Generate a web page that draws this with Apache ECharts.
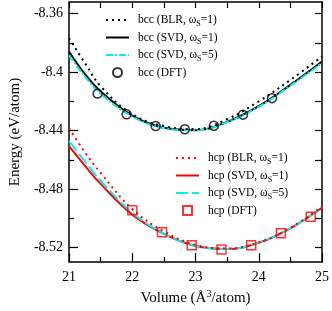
<!DOCTYPE html>
<html><head><meta charset="utf-8">
<script src="https://cdn.jsdelivr.net/npm/echarts@6/dist/echarts.min.js"></script>
<style>html,body{margin:0;padding:0;background:#fff}#c{width:332px;height:311px}</style>
</head><body><div id="c"></div>
<script>
const volumes = [21, 21.25, 21.5, 22, 22.5, 23, 23.5, 24, 24.5, 25];
const bccBLR  = [-8.3768, -8.3937, -8.4097, -8.4288, -8.4369, -8.4390, -8.4322, -8.4200, -8.4053, -8.3893];
const bccSVD1 = [-8.3860, -8.4012, -8.4132, -8.4297, -8.4380, -8.4397, -8.4340, -8.4233, -8.4087, -8.3927];
const bccSVD5 = [-8.3885, -8.4030, -8.4148, -8.4303, -8.4383, -8.4398, -8.4342, -8.4237, -8.4093, -8.3938];
const hcpBLR  = [-8.4385, -8.4548, -8.4690, -8.4937, -8.5090, -8.5182, -8.5207, -8.5165, -8.5065, -8.4920];
const hcpSVD1 = [-8.4507, -8.4640, -8.4765, -8.4975, -8.5107, -8.5190, -8.5211, -8.5168, -8.5069, -8.4928];
const hcpSVD5 = [-8.4473, -8.4610, -8.4743, -8.4962, -8.5105, -8.5189, -8.5210, -8.5167, -8.5068, -8.4926];
const bccDftV = [21.45, 21.91, 22.37, 22.83, 23.29, 23.75, 24.21];
const bccDftE = [-8.4147, -8.4289, -8.4369, -8.4391, -8.4367, -8.4291, -8.4178];
const hcpDftV = [22.00, 22.47, 22.94, 23.41, 23.88, 24.35, 24.82];
const hcpDftE = [-8.4945, -8.5095, -8.5185, -8.5213, -8.5185, -8.5102, -8.4989];
const yLabels = [-8.52, -8.48, -8.44, -8.40, -8.36];
const yMinor = [-8.50, -8.46, -8.42, -8.38];
const yAll = [-8.52, -8.50, -8.48, -8.46, -8.44, -8.42, -8.40, -8.38, -8.36];
const bccNames = ['bcc (BLR, ωS=1)', 'bcc (SVD, ωS=1)', 'bcc (SVD, ωS=5)', 'bcc (DFT)'];
const hcpNames = ['hcp (BLR, ωS=1)', 'hcp (SVD, ωS=1)', 'hcp (SVD, ωS=5)', 'hcp (DFT)'];

const FONT = 'Liberation Serif';
const pairs = (xs, ys) => xs.map((x, i) => [x, ys[i]]);
const BLACK = '#000', RED = '#ff0000', CYAN = '#00f0f0';
const SQUARE = 'path://M0,0H10V10H0Z';

function lineSeries(name, ys, color, type, width, z) {
  return { name, type: 'line', data: pairs(volumes, ys), smooth: 0.4, symbol: 'none',
    xAxisIndex: 0, yAxisIndex: 0, z,
    lineStyle: { color, width, type, cap: 'butt' }, itemStyle: { color } };
}
function dftSeries(name, xs, ys, color, symbol, size) {
  return { name, type: 'scatter', data: pairs(xs, ys), symbol, symbolSize: size, symbolKeepAspect: true,
    xAxisIndex: 0, yAxisIndex: 0, z: 10,
    itemStyle: { color: 'rgba(0,0,0,0)', borderColor: color, borderWidth: 1.5 } };
}
const legendItems = (names, lastIcon) => names.map((n, i) => i < 3
  ? { name: n, itemStyle: { opacity: 0 } }
  : { name: n, icon: lastIcon });
const legendFmt = n => n.replace('ωS', 'ω{s|S}');
const legendText = { fontFamily: FONT, fontSize: 11.5, color: '#000', padding: [0, 0, 0, 4],
  rich: { s: { fontFamily: FONT, fontSize: 8, padding: [8, 0, 0, 0], color: '#000' } } };

const chart = echarts.init(document.getElementById('c'), null, { renderer: 'canvas' });
chart.setOption({
  animation: false,
  backgroundColor: '#fff',
  grid: { left: 57, right: 9, top: 2, bottom: 43, containLabel: false },
  legend: [
    { data: legendItems(bccNames, 'circle'), orient: 'vertical', left: 100, top: 9, itemWidth: 23, itemHeight: 9, itemGap: 3.5,
      symbolKeepAspect: true, formatter: legendFmt, textStyle: legendText },
    { data: legendItems(hcpNames, SQUARE), orient: 'vertical', left: 170, top: 147, itemWidth: 23, itemHeight: 9, itemGap: 3.5,
      symbolKeepAspect: true, formatter: legendFmt, textStyle: legendText }
  ],
  xAxis: [
    { type: 'value', min: 21, max: 25, interval: 1, position: 'bottom',
      name: 'Volume (Å{sup|3}/atom)', nameLocation: 'middle', nameGap: 25,
      nameTextStyle: { fontFamily: FONT, fontSize: 15, color: '#000',
        rich: { sup: { fontFamily: FONT, fontSize: 10, padding: [0, 0, 9, 0], color: '#000' } } },
      axisLine: { show: true, lineStyle: { color: BLACK, width: 1.5 } },
      axisTick: { show: true, inside: true, length: 9, lineStyle: { color: BLACK, width: 1.2 } },
      minorTick: { show: true, splitNumber: 2, length: 5, lineStyle: { color: BLACK, width: 1.2 } },
      axisLabel: { fontFamily: FONT, fontSize: 14, color: '#000', margin: 8 },
      splitLine: { show: false } },
    { type: 'value', min: 21, max: 25, interval: 0.5, position: 'top',
      axisLine: { show: true, lineStyle: { color: BLACK, width: 1.5 } },
      axisTick: { show: true, inside: true, length: 6, lineStyle: { color: BLACK, width: 1.2 } },
      axisLabel: { show: false }, splitLine: { show: false } }
  ],
  yAxis: [
    { type: 'value', min: -8.53, max: -8.352, position: 'left',
      name: 'Energy (eV/atom)', nameLocation: 'middle', nameGap: 46,
      nameTextStyle: { fontFamily: FONT, fontSize: 15, color: '#000' },
      axisLine: { show: true, lineStyle: { color: BLACK, width: 1.5 } },
      axisTick: { show: true, inside: true, length: 9, customValues: yLabels, lineStyle: { color: BLACK, width: 1.2 } },
      axisLabel: { fontFamily: FONT, fontSize: 14, color: '#000', margin: 6, customValues: yLabels,
        formatter: v => String(+v.toFixed(2)) },
      splitLine: { show: false } },
    { type: 'value', min: -8.53, max: -8.352, position: 'right',
      axisLine: { show: true, lineStyle: { color: BLACK, width: 1.5 } },
      axisTick: { show: true, inside: true, length: 7, customValues: yAll, lineStyle: { color: BLACK, width: 1.2 } },
      axisLabel: { show: false }, splitLine: { show: false } },
    { type: 'value', min: -8.53, max: -8.352, position: 'left', offset: 0,
      axisLine: { show: false },
      axisTick: { show: true, inside: true, length: 5, customValues: yMinor, lineStyle: { color: BLACK, width: 1.2 } },
      axisLabel: { show: false }, splitLine: { show: false } }
  ],
  series: [
    lineSeries(bccNames[1], bccSVD1, BLACK, 'solid', 2, 2),
    lineSeries(bccNames[2], bccSVD5, CYAN, [7, 2, 2, 2], 2, 3),
    lineSeries(bccNames[0], bccBLR, BLACK, [2, 4], 2, 4),
    dftSeries(bccNames[3], bccDftV, bccDftE, BLACK, 'circle', 9),
    lineSeries(hcpNames[1], hcpSVD1, RED, 'solid', 2, 2),
    lineSeries(hcpNames[2], hcpSVD5, CYAN, [12, 4], 2, 3),
    lineSeries(hcpNames[0], hcpBLR, RED, [2, 4], 2, 4),
    dftSeries(hcpNames[3], hcpDftV, hcpDftE, RED, SQUARE, 9)
  ]
});
</script></body></html>
